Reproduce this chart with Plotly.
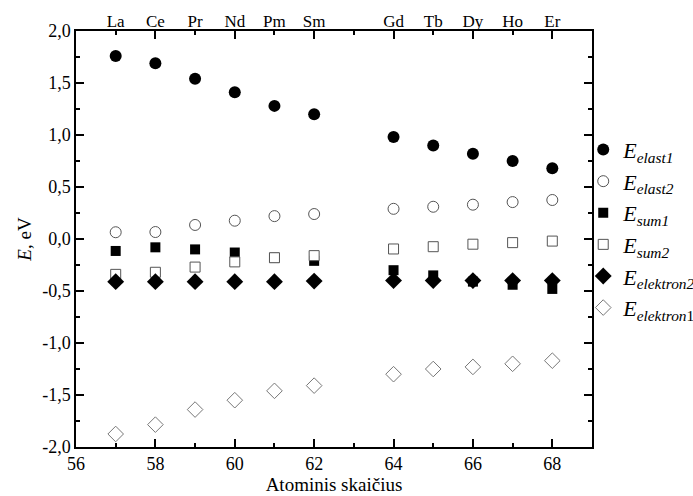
import numpy as np
import plotly.graph_objects as go

Z = [57, 58, 59, 60, 61, 62, 64, 65, 66, 67, 68]
elements = ["La", "Ce", "Pr", "Nd", "Pm", "Sm", "Gd", "Tb", "Dy", "Ho", "Er"]

E_elast1 = [1.76, 1.69, 1.54, 1.41, 1.28, 1.20, 0.98, 0.90, 0.82, 0.75, 0.68]
E_elast2 = [0.065, 0.067, 0.135, 0.176, 0.22, 0.24, 0.29, 0.31, 0.33, 0.355, 0.375]
E_sum1 = [-0.115, -0.08, -0.10, -0.13, -0.18, -0.21, -0.30, -0.35, -0.41, -0.44, -0.48]
E_sum2 = [-0.34, -0.32, -0.27, -0.22, -0.18, -0.16, -0.096, -0.074, -0.05, -0.035, -0.02]
E_elektron2 = [-0.41, -0.41, -0.41, -0.41, -0.41, -0.405, -0.40, -0.40, -0.40, -0.40, -0.40]
E_elektron1 = [-1.875, -1.785, -1.64, -1.55, -1.46, -1.41, -1.30, -1.25, -1.23, -1.20, -1.17]

y_ticks = [2.0, 1.5, 1.0, 0.5, 0.0, -0.5, -1.0, -1.5, -2.0]
y_ticktext = ["2,0", "1,5", "1,0", "0,5", "0,0", "-0,5", "-1,0", "-1,5", "-2,0"]

FONT = "Liberation Serif, Times New Roman, serif"

fig = go.Figure()

def add(y, name, symbol, size, fill, line_color, line_w):
    fig.add_trace(go.Scatter(
        x=Z, y=y, mode="markers", name=name,
        marker=dict(symbol=symbol, size=size, color=fill,
                    line=dict(color=line_color, width=line_w)),
    ))

add(E_elast1, "<i>E<sub>elast1</sub></i>", "circle", 12, "black", "black", 0)
add(E_elast2, "<i>E<sub>elast2</sub></i>", "circle", 11, "white", "#555555", 1)
add(E_sum1, "<i>E<sub>sum1</sub></i>", "square", 10, "black", "black", 0)
add(E_sum2, "<i>E<sub>sum2</sub></i>", "square", 10, "white", "#555555", 1)
add(E_elektron2, "<i>E<sub>elektron2</sub></i>", "diamond", 13, "black", "black", 0)
add(E_elektron1, "<i>E</i><sub><i>elektron</i>1</sub>", "diamond", 12, "white", "#777777", 1)

# top axis labels
fig.add_trace(go.Scatter(x=Z, y=[None]*len(Z), xaxis="x2", showlegend=False,
                         hoverinfo="skip", mode="markers"))

fig.update_layout(
    width=693, height=496,
    margin=dict(l=76, r=101, t=31, b=49, autoexpand=False),
    plot_bgcolor="white", paper_bgcolor="white",
    font=dict(family=FONT, size=16, color="black"),
    xaxis=dict(
        range=[56, 69], tickvals=list(range(56, 70, 2)),
        ticks="inside", ticklen=8, tickwidth=1.5, tickcolor="black",
        minor=dict(ticks="inside", ticklen=4, tickwidth=1.5, tickcolor="black",
                   tickvals=list(range(57, 69, 2))),
        showline=True, linecolor="black", linewidth=1.5, mirror="ticks",
        showgrid=False, zeroline=False, automargin=False,
        tickfont=dict(size=18),
        title=dict(text="Atominis skaičius", font=dict(size=19), standoff=0),
    ),
    xaxis2=dict(
        overlaying="x", side="top", range=[56, 69], automargin=False,
        tickvals=Z, ticktext=elements, ticks="", showline=False,
        showgrid=False, zeroline=False, tickfont=dict(size=17),
    ),
    yaxis=dict(
        range=[-2.0, 2.0], tickvals=y_ticks, ticktext=y_ticktext,
        ticks="inside", ticklen=8, tickwidth=1.5, tickcolor="black",
        minor=dict(ticks="inside", ticklen=4, tickwidth=1.5, tickcolor="black",
                   tickvals=list(np.arange(-1.75, 2.0, 0.5))),
        showline=True, linecolor="black", linewidth=1.5, mirror="ticks",
        showgrid=False, zeroline=False, automargin=False,
        tickfont=dict(size=18),
        title=dict(text="<i>E</i>, eV", font=dict(size=19), standoff=6),
    ),
    legend=dict(x=0.983, y=0.765, xanchor="left", yanchor="top",
                bgcolor="rgba(0,0,0,0)", font=dict(size=22),
                tracegroupgap=0, itemwidth=30),
    showlegend=True,
)

fig.write_html("out.html", config={"displayModeBar": False},
               post_script="document.body.style.margin='0';document.body.style.overflow='hidden';")
